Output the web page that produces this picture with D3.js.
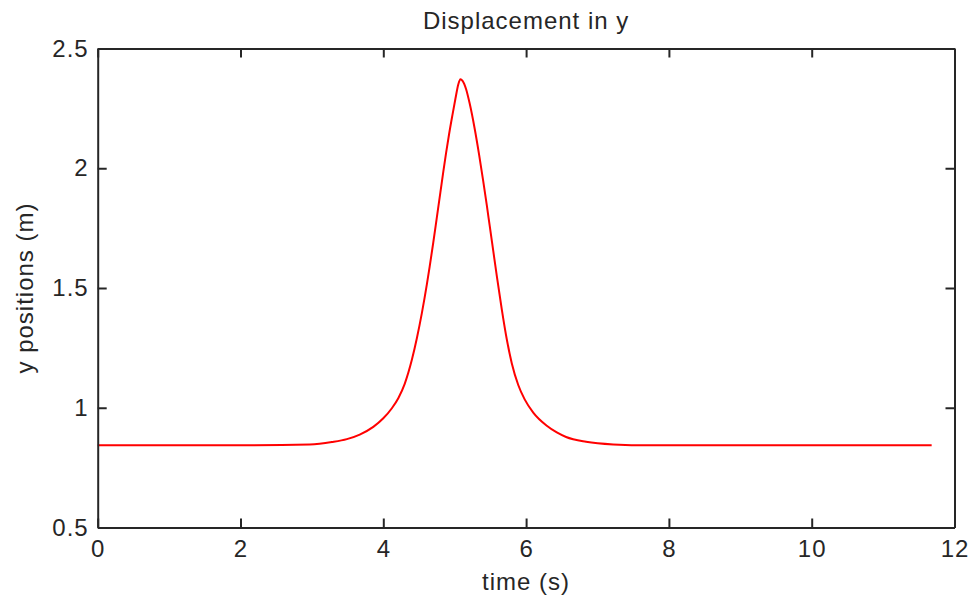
<!DOCTYPE html>
<html>
<head>
<meta charset="utf-8">
<script src="https://cdn.jsdelivr.net/npm/d3@7"></script>
<style>
  body { margin: 0; background: #fff; }
  text { font-family: "Liberation Sans", Arial, sans-serif; fill: #262626; letter-spacing: 1px; }
</style>
</head>
<body>
<div id="graphBox"></div>
<script>
// time samples (s)
const timeValues = [0, 1, 2, 2.97, 3.28, 3.49, 3.67, 3.86, 4.0, 4.12, 4.21, 4.3, 4.4, 4.47, 4.54, 4.61, 4.65, 4.7, 4.75,
    4.8, 4.84, 4.88, 4.92, 4.97, 5.01, 5.05, 5.08, 5.11, 5.16, 5.21, 5.28, 5.34, 5.4, 5.45, 5.49, 5.54, 5.59, 5.66, 5.73,
    5.8, 5.89, 5.98, 6.1, 6.29, 6.43, 6.56, 6.84, 7.22, 7.73, 9, 10.5, 11.68];
// y position (m)
const yValues = [0.843, 0.843, 0.843, 0.847, 0.857, 0.869, 0.888, 0.92, 0.956, 0.998, 1.04, 1.1, 1.2, 1.29, 1.395, 1.515, 1.59, 1.69, 1.795,
    1.9, 1.985, 2.065, 2.14, 2.225, 2.29, 2.35, 2.372, 2.365, 2.33, 2.27, 2.165, 2.06, 1.945, 1.845, 1.76, 1.655, 1.55, 1.41, 1.285,
    1.185, 1.095, 1.035, 0.98, 0.925, 0.897, 0.878, 0.858, 0.847, 0.843, 0.843, 0.843, 0.843];

const xTicks = [0, 2, 4, 6, 8, 10, 12];
const yTicks = [0.5, 1, 1.5, 2, 2.5];

const titleText = "Displacement in y";
const xLabelText = "time (s)";
const yLabelText = "y positions (m)";

const data = timeValues.map((t, i) => ({t: t, v: yValues[i]}));

// set the dimensions and margins of the graph
const totalW = 973, totalH = 605;
const margin = { top: 48.5, right: 18.5, bottom: 77.5, left: 97.7 };
const width = totalW - margin.left - margin.right;
const height = totalH - margin.top - margin.bottom;

const svg = d3.select("#graphBox").append("svg")
    .attr("width", totalW)
    .attr("height", totalH)
    .append("g")
    .attr("transform", `translate(${margin.left}, ${margin.top})`);

const x = d3.scaleLinear().domain([0, 12]).range([0, width]);
const y = d3.scaleLinear().domain([0.5, 2.5]).range([height, 0]);

const tickLen = 9;
const fontSize = 24;

// the data line first, box on top of it
svg.append("path")
    .datum(data)
    .attr("fill", "none")
    .attr("stroke", "#ff0000")
    .attr("stroke-width", 2)
    .attr("d", d3.line()
        .x(d => x(d.t))
        .y(d => y(d.v))
        .curve(d3.curveMonotoneX));

// axes: ticks point inward on all four sides, like a boxed plot
function styleAxis(g) {
    g.select(".domain").attr("stroke", "#262626").attr("stroke-width", 2);
    g.selectAll(".tick line").attr("stroke", "#262626").attr("stroke-width", 2);
    g.selectAll(".tick text").style("font-size", fontSize + "px");
}

svg.append("g")
    .attr("transform", `translate(0, ${height})`)
    .call(d3.axisBottom(x).tickValues(xTicks).tickSizeInner(-tickLen).tickSizeOuter(0).tickPadding(12).tickFormat(d3.format("d")))
    .call(styleAxis);

svg.append("g")
    .call(d3.axisTop(x).tickValues(xTicks).tickSizeInner(-tickLen).tickSizeOuter(0).tickFormat(""))
    .call(styleAxis);

svg.append("g")
    .call(d3.axisLeft(y).tickValues(yTicks).tickSizeInner(-tickLen).tickSizeOuter(0).tickPadding(9).tickFormat(d => String(d)))
    .call(styleAxis);

svg.append("g")
    .attr("transform", `translate(${width}, 0)`)
    .call(d3.axisRight(y).tickValues(yTicks).tickSizeInner(-tickLen).tickSizeOuter(0).tickFormat(""))
    .call(styleAxis);

// title and axis labels
svg.append("text")
    .attr("x", width / 2)
    .attr("y", -20)
    .attr("text-anchor", "middle")
    .style("font-size", fontSize + "px")
    .text(titleText);

svg.append("text")
    .attr("x", width / 2)
    .attr("y", height + 62)
    .attr("text-anchor", "middle")
    .style("font-size", fontSize + "px")
    .text(xLabelText);

svg.append("text")
    .attr("transform", `translate(${-65}, ${height / 2}) rotate(-90)`)
    .attr("text-anchor", "middle")
    .style("font-size", fontSize + "px")
    .text(yLabelText);
</script>
</body>
</html>
